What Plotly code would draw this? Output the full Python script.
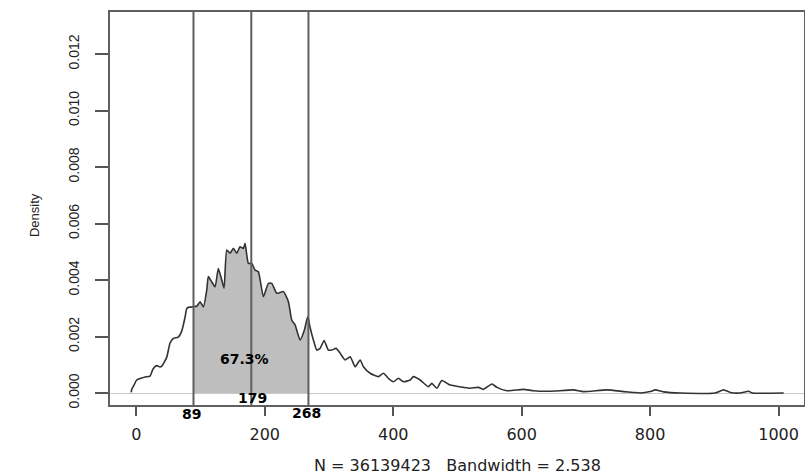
import plotly.graph_objects as go

# ---- data ----
dens_x = [-8, -7.2, -3.6, 0.6, 8.4, 13.6, 21.3, 26, 31.8, 36.9, 40, 47.4, 52.5, 57.6, 65.4,
          70.7, 75.9, 78.5, 82, 86.3, 89, 89.9, 94.5, 99.2, 104.4, 109.7, 112.1, 117.4, 122.6,
          127.7, 133, 136.6, 140.8, 146, 151.1, 156.4, 161.5, 166.7, 169.3, 172, 174.5, 179.8,
          184.9, 190, 197.8, 205.6, 210.9, 218.7, 229, 236.8, 242, 247.2, 255, 261.7, 266.7,
          268, 270.6, 275.7, 281, 286.1, 292.4, 299, 304.4, 311, 317.3, 325, 332.9, 340.7,
          348.4, 353.6, 364, 377, 384.7, 392.5, 400.3, 408.1, 415.9, 426.3, 431.5, 441.9,
          454.8, 460.1, 467.9, 475.7, 488.6, 509.3, 519.8, 532.7, 540.5, 553.6, 561.4, 577,
          602.8, 618.4, 639.3, 652.2, 680.7, 696.3, 732.7, 758.6, 773.7, 784.6, 800, 808,
          820.9, 847, 901, 914.3, 924.8, 940, 953.3, 959, 1008]
dens_y = [0.00002, 0.00013, 0.00028, 0.00046, 0.00053, 0.00057, 0.00060, 0.00085, 0.00097,
          0.00092, 0.00096, 0.00127, 0.00177, 0.00193, 0.00198, 0.00219, 0.00269, 0.00299,
          0.00304, 0.00304, 0.00306, 0.00306, 0.00308, 0.00323, 0.00305, 0.00365, 0.00412,
          0.00394, 0.00376, 0.00441, 0.00400, 0.00371, 0.00506, 0.00495, 0.00512, 0.00495,
          0.00518, 0.00512, 0.00530, 0.00488, 0.00459, 0.00459, 0.00435, 0.00429, 0.00341,
          0.00388, 0.00388, 0.00353, 0.00359, 0.00323, 0.00258, 0.00241, 0.00188, 0.00223,
          0.00270, 0.00262, 0.00232, 0.00188, 0.00152, 0.00158, 0.00186, 0.00152, 0.00152,
          0.00158, 0.00141, 0.00117, 0.00128, 0.00093, 0.00117, 0.00093, 0.00070, 0.00058,
          0.00070, 0.00052, 0.00040, 0.00052, 0.00040, 0.00046, 0.00058, 0.00046, 0.00022,
          0.00034, 0.00017, 0.00044, 0.00028, 0.00020, 0.00017, 0.00020, 0.00013, 0.00032,
          0.00020, 0.00008, 0.00013, 0.00008, 0.00006, 0.00007, 0.00011, 0.00005, 0.00011,
          0.00005, 0.00002, 0.0, 0.00005, 0.00011, 0.00004, 0.0, 0.0, 0.00011, 0.00002, 0.0,
          0.00006, 0.0, 0.0]

interval_lo = 89
interval_mid = 179
interval_hi = 268
interval_pct = "67.3%"
n_obs = 36139423
bandwidth = 2.538

x_ticks = [0, 200, 400, 600, 800, 1000]
y_ticks = [0.000, 0.002, 0.004, 0.006, 0.008, 0.010, 0.012]
y_tick_labels = ["0.000", "0.002", "0.004", "0.006", "0.008", "0.010", "0.012"]

# ---- figure ----
shade_x = [x for x in dens_x if interval_lo <= x <= interval_hi]
shade_y = [y for x, y in zip(dens_x, dens_y) if interval_lo <= x <= interval_hi]

fig = go.Figure()
fig.add_trace(go.Scatter(x=shade_x, y=shade_y, mode="lines", fill="tozeroy",
                         fillcolor="#bebebe", line=dict(width=0, shape="spline", smoothing=0.5),
                         hoverinfo="skip", showlegend=False))
fig.add_trace(go.Scatter(x=dens_x, y=dens_y, mode="lines",
                         line=dict(color="#333333", width=1.6, shape="spline", smoothing=0.5),
                         showlegend=False))

for v in (interval_lo, interval_mid, interval_hi):
    fig.add_shape(type="line", xref="x", yref="paper", x0=v, x1=v, y0=0, y1=1,
                  line=dict(color="#5e5e5e", width=2))

lab_font = dict(family="DejaVu Sans", size=14, color="black", weight="bold")
c = dict(showarrow=False, xanchor="center", yanchor="middle")
fig.add_annotation(x=168.5, y=0.00119, text=interval_pct, font=lab_font, **c)
fig.add_annotation(x=181.5, y=-0.00018, text=str(interval_mid), font=lab_font, **c)
fig.add_annotation(x=86, yref="paper", y=-0.0229, text=str(interval_lo), font=lab_font, **c)
fig.add_annotation(x=264.5, yref="paper", y=-0.0204, text=str(interval_hi), font=lab_font, **c)

fig.add_annotation(xref="paper", yref="paper", x=-0.108, y=0.4835, text="Density",
                   textangle=-90, font=dict(family="Liberation Sans", size=13, color="#222"), **c)
fig.add_annotation(xref="paper", yref="paper", x=0.5, y=-0.153,
                   text=f"N = {n_obs}   Bandwidth = {bandwidth}",
                   font=dict(family="DejaVu Sans", size=16, color="#222"), **c)

fig.update_layout(
    width=805, height=476,
    margin=dict(l=110, r=1, t=12, b=71, autoexpand=False),
    paper_bgcolor="white", plot_bgcolor="white",
    xaxis=dict(range=[-41, 1039.6], tickvals=x_ticks, ticks="outside", ticklen=9,
               tickcolor="#555", tickwidth=1.5, showgrid=False, zeroline=False,
               showline=True, mirror=True, linecolor="#606060", linewidth=2,
               automargin=False, ticklabelstandoff=5,
               tickfont=dict(family="DejaVu Sans", size=16, color="#222")),
    yaxis=dict(range=[-0.000425, 0.01349], tickvals=y_ticks, ticktext=y_tick_labels,
               tickangle=-90, ticks="outside", ticklen=13, tickcolor="#555", tickwidth=1.5,
               showgrid=False, zeroline=True, zerolinecolor="#c8c8c8", zerolinewidth=1,
               showline=True, mirror=True, linecolor="#606060", linewidth=2,
               automargin=False, ticklabelstandoff=10,
               tickfont=dict(family="Liberation Sans", size=14, color="#222")),
)

fig.write_html("out.html", config={"displayModeBar": False},
               post_script="document.body.style.margin='0';document.body.style.padding='0';")
